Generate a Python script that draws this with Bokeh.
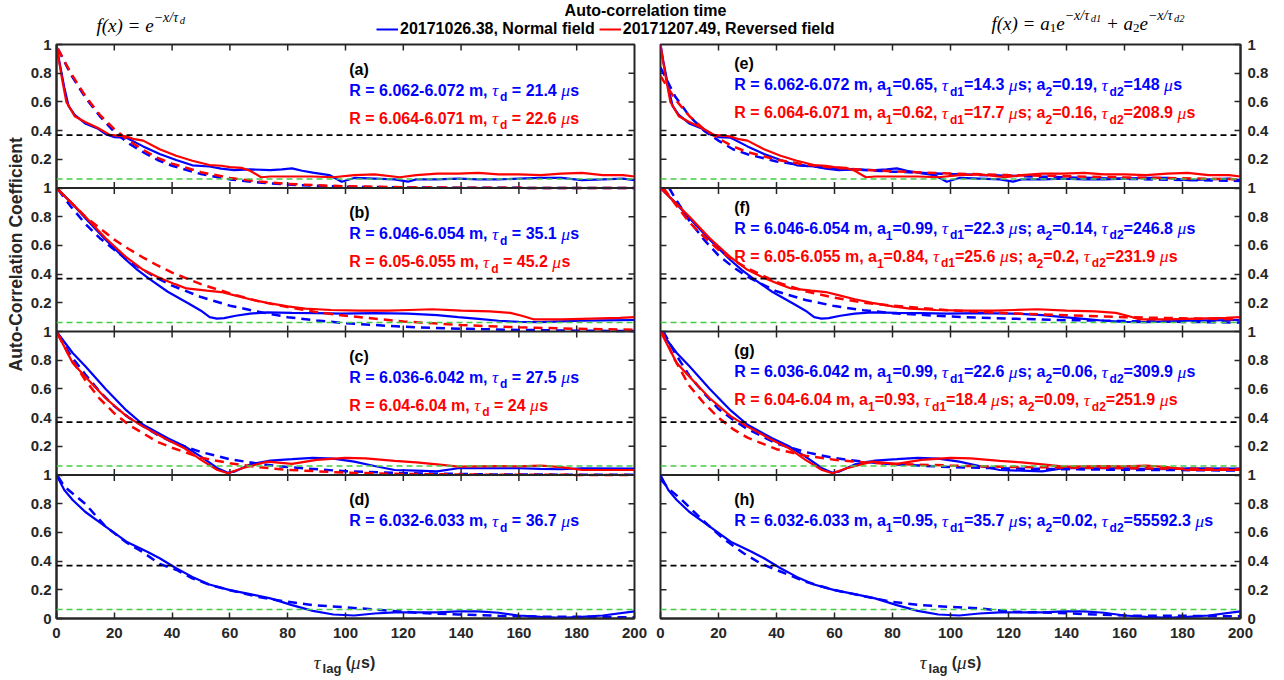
import numpy as np
from bokeh.plotting import figure
from bokeh.models import Range1d, FixedTicker, Span, Label, Legend, LegendItem
from bokeh.layouts import column, row
from bokeh.embed import file_html
from bokeh.resources import INLINE

# ------------------------------------------------------------------ data
xticks = [0, 20, 40, 60, 80, 100, 120, 140, 160, 180, 200]
ytick_vals = [0, 0.2, 0.4, 0.6, 0.8, 1.0]
ytick_labels = ["0", "0.2", "0.4", "0.6", "0.8", "1"]
efold_level = 0.368
green_level = 0.063

# measured auto-correlation (solid) -- same data in left and right columns
a_blue_x = [0, 1, 2.7, 4.2, 6.3, 9.9, 14.2, 17, 19.9, 24.2, 30, 35.7, 41.4, 47, 52.9, 57, 61.5, 67, 74, 78, 81.5, 85, 88.7, 94.4, 98.7, 103, 110, 117, 121.6, 124.5, 131.7, 139, 146, 153, 160, 167.5, 174.7, 181.8, 189, 196, 200]
a_blue_y = [1, 0.88, 0.7, 0.57, 0.51, 0.45, 0.415, 0.375, 0.355, 0.35, 0.29, 0.237, 0.195, 0.158, 0.15, 0.135, 0.125, 0.13, 0.125, 0.13, 0.137, 0.12, 0.107, 0.09, 0.044, 0.07, 0.065, 0.06, 0.044, 0.06, 0.06, 0.065, 0.06, 0.06, 0.065, 0.07, 0.07, 0.055, 0.06, 0.065, 0.055]
a_red_x = [0, 1, 2, 3.4, 6.3, 9.9, 14.2, 18.5, 24, 27, 30, 35.7, 41.4, 47, 52.9, 57, 60, 64, 67, 70.8, 74, 78.7, 88.7, 95.8, 103, 110, 118.8, 124.5, 131.7, 139, 146, 153, 160, 167.5, 174.7, 181.8, 189, 196, 200]
a_red_y = [1, 0.87, 0.75, 0.6, 0.5, 0.46, 0.42, 0.37, 0.36, 0.34, 0.33, 0.27, 0.225, 0.19, 0.16, 0.155, 0.145, 0.14, 0.12, 0.075, 0.08, 0.08, 0.08, 0.075, 0.09, 0.095, 0.075, 0.09, 0.1, 0.1, 0.105, 0.095, 0.095, 0.09, 0.1, 0.105, 0.09, 0.09, 0.08]

b_blue_x = [0, 5, 10, 17, 24, 28, 32, 38.5, 45.7, 50, 53, 55.5, 58, 62, 67, 73, 81.5, 90, 98.7, 110, 121.6, 131.7, 139, 146, 153, 160, 167.5, 174.7, 181.8, 189, 200]
b_blue_y = [1, 0.9, 0.79, 0.64, 0.5, 0.43, 0.368, 0.277, 0.195, 0.145, 0.1, 0.09, 0.093, 0.11, 0.125, 0.133, 0.13, 0.128, 0.125, 0.128, 0.125, 0.114, 0.1, 0.088, 0.075, 0.067, 0.065, 0.07, 0.075, 0.078, 0.08]
b_red_x = [0, 5, 10, 17, 24, 30, 35, 41, 45, 52, 57, 62, 67, 73, 80, 86, 95, 105, 115, 122, 130, 140, 150, 157, 161, 165, 175, 185, 195, 200]
b_red_y = [1, 0.9, 0.8, 0.65, 0.52, 0.43, 0.38, 0.33, 0.3, 0.285, 0.275, 0.25, 0.225, 0.2, 0.175, 0.16, 0.15, 0.145, 0.145, 0.15, 0.155, 0.145, 0.14, 0.13, 0.11, 0.085, 0.085, 0.09, 0.095, 0.1]

c_blue_x = [0, 5.6, 9.9, 17, 24.2, 30, 38.5, 44.3, 50, 55.7, 59.3, 61.5, 67, 74, 81.5, 88.7, 95.8, 103, 110, 117, 124.5, 131.7, 139, 146, 153, 160, 167.5, 174.7, 181.8, 200]
c_blue_y = [1, 0.85, 0.76, 0.6, 0.45, 0.35, 0.256, 0.2, 0.128, 0.047, 0.016, 0.023, 0.074, 0.1, 0.11, 0.12, 0.114, 0.093, 0.063, 0.035, 0.03, 0.025, 0.047, 0.047, 0.047, 0.047, 0.043, 0.04, 0.047, 0.045]
c_red_x = [0, 5.6, 9.9, 17, 24.2, 30, 38.5, 44.3, 50, 55.7, 59.3, 64.2, 73, 81.5, 90, 100, 107, 117, 124.5, 131.7, 139, 146, 153, 160, 167.5, 174.7, 181.8, 200]
c_red_y = [1, 0.78, 0.686, 0.535, 0.41, 0.337, 0.244, 0.186, 0.105, 0.035, 0.012, 0.047, 0.093, 0.077, 0.105, 0.12, 0.116, 0.098, 0.088, 0.074, 0.058, 0.06, 0.062, 0.06, 0.065, 0.055, 0.035, 0.035]

d_blue_x = [0, 2.7, 5.6, 9.9, 17, 24.2, 31.4, 35.7, 41.4, 47, 52.9, 60, 67, 74, 81.5, 88.7, 95.8, 103, 110, 117, 124.5, 131.7, 139, 146, 153, 160, 167.5, 174.7, 181.8, 189, 200]
d_blue_y = [1, 0.895, 0.826, 0.744, 0.64, 0.535, 0.465, 0.42, 0.35, 0.29, 0.237, 0.198, 0.17, 0.14, 0.093, 0.053, 0.028, 0.021, 0.035, 0.042, 0.042, 0.042, 0.05, 0.05, 0.04, 0.021, 0.012, 0.005, 0.012, 0.021, 0.05]

# single-exponential fits (dashed, left column)
fit1_x = [0.5, 5, 10, 15, 20, 25, 30, 35, 40, 50, 60, 70, 80, 90, 100, 120, 140, 160, 180, 200]
fit1_a_blue = [0.97, 0.79, 0.63, 0.5, 0.39, 0.31, 0.25, 0.195, 0.155, 0.097, 0.06, 0.038, 0.024, 0.015, 0.009, 0.004, 0.002, 0.001, 0.0, 0.0]
fit1_a_red = [0.97, 0.8, 0.64, 0.51, 0.41, 0.33, 0.265, 0.21, 0.17, 0.11, 0.07, 0.045, 0.029, 0.019, 0.012, 0.005, 0.002, 0.001, 0.0, 0.0]
fit1_b_blue = [0.99, 0.87, 0.75, 0.65, 0.57, 0.49, 0.43, 0.37, 0.32, 0.24, 0.18, 0.137, 0.1, 0.077, 0.058, 0.033, 0.019, 0.011, 0.006, 0.003]
fit1_b_red = [0.99, 0.9, 0.8, 0.72, 0.64, 0.575, 0.515, 0.46, 0.41, 0.33, 0.265, 0.21, 0.17, 0.135, 0.11, 0.07, 0.045, 0.029, 0.019, 0.012]
fit1_c_x = [0.5, 5, 10, 15, 20, 25, 30, 35, 40, 50, 60, 70, 80, 100, 120, 150, 200]
fit1_c_blue = [0.98, 0.83, 0.7, 0.58, 0.48, 0.4, 0.34, 0.28, 0.23, 0.16, 0.11, 0.078, 0.055, 0.026, 0.013, 0.004, 0.001]
fit1_c_red = [0.98, 0.81, 0.66, 0.53, 0.43, 0.35, 0.29, 0.23, 0.19, 0.12, 0.082, 0.054, 0.036, 0.016, 0.007, 0.002, 0.0]
fit1_d_x = [0.5, 2.7, 9.9, 17, 24.2, 30, 35.7, 41.4, 47, 52.9, 61.5, 70, 78.7, 88.7, 98.7, 110, 124.5, 139, 153, 167.5, 181.8, 200]
fit1_d_blue = [0.99, 0.92, 0.8, 0.64, 0.53, 0.46, 0.38, 0.34, 0.28, 0.235, 0.19, 0.15, 0.12, 0.093, 0.08, 0.063, 0.04, 0.028, 0.019, 0.013, 0.012, 0.008]

# double-exponential fits (dashed, right column)
fit2_x = [0, 5, 10, 15, 20, 25, 30, 40, 50, 60, 70, 80, 100, 120, 140, 160, 180, 200]
fit2_e_blue = [0.84, 0.64, 0.5, 0.4, 0.33, 0.27, 0.235, 0.185, 0.155, 0.137, 0.125, 0.114, 0.097, 0.085, 0.074, 0.064, 0.056, 0.049]
fit2_e_red = [0.78, 0.62, 0.5, 0.41, 0.345, 0.29, 0.25, 0.197, 0.163, 0.141, 0.127, 0.116, 0.101, 0.09, 0.082, 0.074, 0.068, 0.061]
fit2_f_blue_x = [3, 5, 10, 15, 20, 25, 30, 40, 50, 60, 70, 80, 100, 120, 140, 160, 180, 200]
fit2_f_blue = [1.0, 0.93, 0.77, 0.64, 0.53, 0.45, 0.38, 0.28, 0.22, 0.177, 0.148, 0.128, 0.104, 0.09, 0.079, 0.073, 0.067, 0.062]
fit2_f_red_x = [1, 5, 10, 15, 20, 25, 30, 40, 50, 60, 70, 80, 100, 120, 140, 160, 180, 200]
fit2_f_red = [1.0, 0.89, 0.76, 0.66, 0.57, 0.5, 0.44, 0.345, 0.28, 0.236, 0.2, 0.18, 0.147, 0.127, 0.113, 0.1, 0.092, 0.084]
fit2_g_blue_x = [1, 5, 10, 15, 20, 25, 30, 40, 50, 60, 70, 80, 100, 120, 140, 160, 180, 200]
fit2_g_blue = [1.0, 0.85, 0.69, 0.57, 0.46, 0.385, 0.32, 0.22, 0.16, 0.118, 0.093, 0.075, 0.055, 0.046, 0.04, 0.036, 0.034, 0.031]
fit2_g_red_x = [0.5, 5, 10, 15, 20, 25, 30, 40, 50, 60, 70, 80, 100, 120, 140, 160, 180, 200]
fit2_g_red = [1.0, 0.8, 0.62, 0.5, 0.4, 0.32, 0.26, 0.18, 0.135, 0.106, 0.089, 0.077, 0.066, 0.056, 0.052, 0.048, 0.044, 0.041]
fit2_h_x = [0, 3.1, 7.4, 14.5, 21.6, 28.8, 34.5, 40.2, 50, 60, 70, 80, 90, 100, 110, 121, 135.6, 150, 164, 178, 200]
fit2_h_blue = [0.97, 0.9, 0.826, 0.686, 0.558, 0.453, 0.384, 0.337, 0.256, 0.198, 0.156, 0.116, 0.093, 0.081, 0.07, 0.047, 0.04, 0.028, 0.019, 0.019, 0.015]

# texts
title_text = "Auto-correlation time"
legend_labels = ["20171026.38, Normal field", "20171207.49, Reversed field"]
ylabel_text = "Auto-Correlation Coefficient"
letters_left = ["(a)", "(b)", "(c)", "(d)"]
letters_right = ["(e)", "(f)", "(g)", "(h)"]
R_blue = ["6.062-6.072", "6.046-6.054", "6.036-6.042", "6.032-6.033"]
R_red = ["6.064-6.071", "6.05-6.055", "6.04-6.04"]
taud_blue = ["21.4", "35.1", "27.5", "36.7"]
taud_red = ["22.6", "45.2", "24"]
a1_blue = ["0.65", "0.99", "0.99", "0.95"]
td1_blue = ["14.3", "22.3", "22.6", "35.7"]
a2_blue = ["0.19", "0.14", "0.06", "0.02"]
td2_blue = ["148", "246.8", "309.9", "55592.3"]
a1_red = ["0.62", "0.84", "0.93"]
td1_red = ["17.7", "25.6", "18.4"]
a2_red = ["0.16", "0.2", "0.09"]
td2_red = ["208.9", "231.9", "251.9"]

# ------------------------------------------------------------------ style
BLUE = "#0000FF"
RED = "#FF0000"
AX = "#262626"
GREEN = "#44CC44"
SANS = "Liberation Sans"
SERIF = "Liberation Serif"
FS = 16.0
PANEL_PX = 143.5
XPX = 2.9          # px per x unit
HDR_H, FOOT_H = 36, 34
TOPB, BOTB = 8, 28
SIDE_W = 27

SANS_W = {' ': 278, '(': 333, ')': 333, ',': 278, '-': 333, '.': 278, ';': 333, '=': 584,
          'R': 722, 'A': 722, 'C': 722, 'N': 722, 'a': 556, 'b': 611, 'c': 556, 'd': 611,
          'e': 556, 'f': 333, 'g': 611, 'h': 611, 'i': 278, 'l': 278, 'm': 889, 'n': 611,
          'o': 611, 'r': 389, 's': 556, 't': 333, 'u': 611}
for _d in "0123456789":
    SANS_W[_d] = 556
SERIF_W = {'f': 278, '(': 333, ')': 333, 'x': 444, ' ': 250, '=': 675, 'e': 444, 'a': 500,
           '\u2212': 675, '/': 278, '\u03c4': 460, '\u03bc': 520, 'd': 500, '1': 500, '2': 500, '+': 675}


def st(font, style, size, dy, table):
    return dict(font=font, style=style, size=size, dy=dy, w=table)


TXT = {
    'b': st(SANS, "bold", FS, 0, SANS_W),
    'g': st(SERIF, "italic", FS + 1.5, 0, SERIF_W),
    's': st(SANS, "bold", FS * 0.75, -7, SANS_W),
}
MATH = {
    'm': st(SERIF, "italic", 19, 0, SERIF_W),
    'msub': st(SERIF, "normal", 13, -4, SERIF_W),
    'sup': st(SERIF, "italic", 14, 8, SERIF_W),
    'ss': st(SERIF, "italic", 10.5, 5, SERIF_W),
}


def tw(text, s):
    return sum(s["w"].get(ch, 556) for ch in text) * s["size"] / 1000.0


def rich(fig, x, y, parts, styles, color, base_dy, align="left", yrn="default"):
    widths = [tw(t, styles[k]) for t, k in parts]
    off = -sum(widths) / 2.0 if align == "center" else 0.0
    for (t, k), w in zip(parts, widths):
        s = styles[k]
        lead = len(t) - len(t.lstrip(" "))
        shown = t.strip(" ")
        if shown:
            fig.add_layout(Label(x=x, y=y, x_offset=off + tw(" " * lead, s),
                                 y_offset=base_dy + s["dy"], text=shown,
                                 text_font=s["font"], text_font_style=s["style"],
                                 text_font_size=f"{s['size']}px", text_color=color,
                                 text_baseline="alphabetic", text_align="left",
                                 y_range_name=yrn))
        off += w


def style_axis(ax, ticks, overrides=None, standoff=6):
    ax.ticker = FixedTicker(ticks=ticks)
    ax.major_tick_in = 6
    ax.major_tick_out = 0
    ax.minor_tick_line_color = None
    ax.axis_line_color = AX
    ax.axis_line_width = 2
    ax.major_tick_line_color = AX
    ax.major_tick_line_width = 1.5
    ax.major_label_text_font = SANS
    ax.major_label_text_font_style = "bold"
    ax.major_label_text_color = AX
    ax.major_label_text_font_size = "15px"
    ax.major_label_standoff = standoff
    if overrides:
        ax.major_label_overrides = overrides


# stacked y ticks: 4 panels, each 0..1
main_ticks = []
main_over = {}
for k in range(4):
    for v, lab in zip(ytick_vals, ytick_labels):
        if k > 0 and v == 0:
            continue
        t = round(k + v, 4)
        main_ticks.append(t)
        main_over[t] = lab

names = ["a", "b", "c", "d"]
FIG_H = TOPB + int(4 * PANEL_PX) + BOTB


def make_col(is_left):
    if is_left:
        p = figure(width=650 - SIDE_W, height=FIG_H, x_range=Range1d(0, 200),
                   y_range=Range1d(0, 4), y_axis_location="left",
                   min_border_left=54 - SIDE_W, min_border_right=16,
                   min_border_top=TOPB, min_border_bottom=BOTB,
                   output_backend="svg", toolbar_location=None)
    else:
        p = figure(width=634, height=FIG_H, x_range=Range1d(0, 200), y_range=Range1d(0, 4),
                   y_axis_location="right", min_border_left=10, min_border_right=44,
                   min_border_top=TOPB, min_border_bottom=BOTB,
                   output_backend="svg", toolbar_location=None)
    p.xgrid.visible = False
    p.ygrid.visible = False
    p.outline_line_color = AX
    p.outline_line_width = 2
    for i, n in enumerate(names):
        p.extra_y_ranges[n] = Range1d(i - 3, i + 1)

    style_axis(p.xaxis[0], xticks, standoff=9)
    style_axis(p.yaxis[0], main_ticks, main_over, standoff=5 if is_left else 7)

    # inward ticks on the unlabeled sides and on the panel separators
    inner = xticks[1:-1]
    tl = 6.0 / PANEL_PX
    tlx = 6.0 / XPX
    p.segment(x0=inner, x1=inner, y0=[4 - tl] * len(inner), y1=[4] * len(inner),
              line_color=AX, line_width=1.5)
    side = [t for t in main_ticks if 0 < t < 4]
    if is_left:
        p.segment(x0=[200 - tlx] * len(side), x1=[200] * len(side), y0=side, y1=side,
                  line_color=AX, line_width=1.5)
    else:
        p.segment(x0=[0] * len(side), x1=[tlx] * len(side), y0=side, y1=side,
                  line_color=AX, line_width=1.5)
    for k in (1, 2, 3):
        p.add_layout(Span(location=k, dimension="width", line_color=AX, line_width=2))
        p.segment(x0=inner, x1=inner, y0=[k - tl] * len(inner), y1=[k + tl] * len(inner),
                  line_color=AX, line_width=1.5)
    return p


left = make_col(True)
right = make_col(False)

solid = {
    "a": [(a_blue_x, a_blue_y, BLUE), (a_red_x, a_red_y, RED)],
    "b": [(b_blue_x, b_blue_y, BLUE), (b_red_x, b_red_y, RED)],
    "c": [(c_blue_x, c_blue_y, BLUE), (c_red_x, c_red_y, RED)],
    "d": [(d_blue_x, d_blue_y, BLUE)],
}
fits_left = {
    "a": [(fit1_x, fit1_a_blue), (fit1_x, fit1_a_red)],
    "b": [(fit1_x, fit1_b_blue), (fit1_x, fit1_b_red)],
    "c": [(fit1_c_x, fit1_c_blue), (fit1_c_x, fit1_c_red)],
    "d": [(fit1_d_x, fit1_d_blue)],
}
fits_right = {
    "a": [(fit2_x, fit2_e_blue), (fit2_x, fit2_e_red)],
    "b": [(fit2_f_blue_x, fit2_f_blue), (fit2_f_red_x, fit2_f_red)],
    "c": [(fit2_g_blue_x, fit2_g_blue), (fit2_g_red_x, fit2_g_red)],
    "d": [(fit2_h_x, fit2_h_blue)],
}

for p, fits in ((left, fits_left), (right, fits_right)):
    for n in names:
        for (sx, sy, col), (fx, fy) in zip(solid[n], fits[n]):
            p.line(sx, sy, line_color=col, line_width=2.2, y_range_name=n)
            p.line(fx, fy, line_color=col, line_width=2.5, line_dash="9 6", y_range_name=n)
        p.add_layout(Span(location=efold_level, dimension="width", line_color="black",
                          line_width=1.8, line_dash="6 4", y_range_name=n))
        p.add_layout(Span(location=green_level, dimension="width", line_color=GREEN,
                          line_width=1.6, line_dash="6 4", y_range_name=n))

# ---- annotations, left column
LX = 101.3
for i, n in enumerate(names):
    rich(left, LX, 1, [(letters_left[i], 'b')], TXT, "black", -24.5, yrn=n)
    rich(left, LX, 1, [(f"R = {R_blue[i]} m, ", 'b'), ("\u03c4", 'g'), ("d", 's'),
                       (f" = {taud_blue[i]} ", 'b'), ("\u03bc", 'g'), ("s", 'b')],
         TXT, BLUE, -45.5, yrn=n)
    if i < 3:
        rich(left, LX, 1, [(f"R = {R_red[i]} m, ", 'b'), ("\u03c4", 'g'), ("d", 's'),
                           (f" = {taud_red[i]} ", 'b'), ("\u03bc", 'g'), ("s", 'b')],
             TXT, RED, -73.5, yrn=n)

# ---- annotations, right column
RX = 25.4


def dbl(R, a1, t1, a2, t2):
    return [(f"R = {R} m, a", 'b'), ("1", 's'), (f"={a1}, ", 'b'), ("\u03c4", 'g'), ("d1", 's'),
            (f"={t1} ", 'b'), ("\u03bc", 'g'), ("s; a", 'b'), ("2", 's'), (f"={a2}, ", 'b'),
            ("\u03c4", 'g'), ("d2", 's'), (f"={t2} ", 'b'), ("\u03bc", 'g'), ("s", 'b')]


for i, n in enumerate(names):
    if i < 3:
        lb, bb, rb = -19, -40.3, -68.2
    else:
        lb, bb, rb = -24.5, -45.5, -73.5
    rich(right, RX, 1, [(letters_right[i], 'b')], TXT, "black", lb, yrn=n)
    rich(right, RX, 1, dbl(R_blue[i], a1_blue[i], td1_blue[i], a2_blue[i], td2_blue[i]),
         TXT, BLUE, bb, yrn=n)
    if i < 3:
        rich(right, RX, 1, dbl(R_red[i], a1_red[i], td1_red[i], a2_red[i], td2_red[i]),
             TXT, RED, rb, yrn=n)


def blank(w, h):
    f = figure(width=w, height=h, x_range=Range1d(0, w), y_range=Range1d(h, 0),
               x_axis_type=None, y_axis_type=None, min_border=0, outline_line_color=None,
               output_backend="svg", toolbar_location=None)
    return f


# ------------------------------------------------------------------ side (y label)
side = blank(SIDE_W, FIG_H)
side.add_layout(Label(x=15, y=259 - HDR_H, text=ylabel_text, angle=np.pi / 2,
                      text_align="center", text_baseline="middle", text_font=SANS,
                      text_font_style="bold", text_font_size="17.5px", text_color=AX))

# ------------------------------------------------------------------ header
hdr = blank(1284, HDR_H)
hdr.add_layout(Label(x=645, y=10, text=title_text, text_align="center", text_baseline="middle",
                     text_font=SANS, text_font_style="bold", text_font_size="16px",
                     text_color="black"))
r1 = hdr.line([np.nan], [np.nan], line_color=BLUE, line_width=2)
r2 = hdr.line([np.nan], [np.nan], line_color=RED, line_width=2)
legend = Legend(items=[LegendItem(label=legend_labels[0], renderers=[r1]),
                       LegendItem(label=legend_labels[1], renderers=[r2])],
                location=(376, -2), orientation="horizontal", spacing=4, padding=0, margin=0,
                label_standoff=2, glyph_width=22, glyph_height=14, label_height=14,
                label_text_font=SANS, label_text_font_style="bold", label_text_font_size="16px",
                label_text_color="black", border_line_color=None, background_fill_alpha=0)
hdr.add_layout(legend)

rich(hdr, 96, 25, [("f(x) = e", 'm'), ("\u2212x/\u03c4", 'sup'), ("d", 'ss')], MATH, "black", 0)
rich(hdr, 991, 23, [("f(x) = a", 'm'), ("1", 'msub'), ("e", 'm'), ("\u2212x/\u03c4", 'sup'),
                    ("d1", 'ss'), (" + a", 'm'), ("2", 'msub'), ("e", 'm'),
                    ("\u2212x/\u03c4", 'sup'), ("d2", 'ss')], MATH, "black", 0)

# ------------------------------------------------------------------ footer (x labels)
foot = blank(1284, FOOT_H)
XL = {'g': st(SERIF, "italic", 19, 0, SERIF_W), 'b': st(SANS, "bold", 16, 0, SANS_W),
      's': st(SANS, "bold", 13, -6, SANS_W)}
for cx in (54 + 100 * XPX, 660 + 100 * XPX):
    rich(foot, cx, 16, [("\u03c4", 'g'), ("lag", 's'), (" (", 'b'), ("\u03bc", 'g'), ("s)", 'b')],
         XL, AX, 0, align="center")

layout = column(hdr, row(side, left, right, spacing=0), foot, spacing=0)
open("out.html", "w").write(file_html(layout, INLINE))
